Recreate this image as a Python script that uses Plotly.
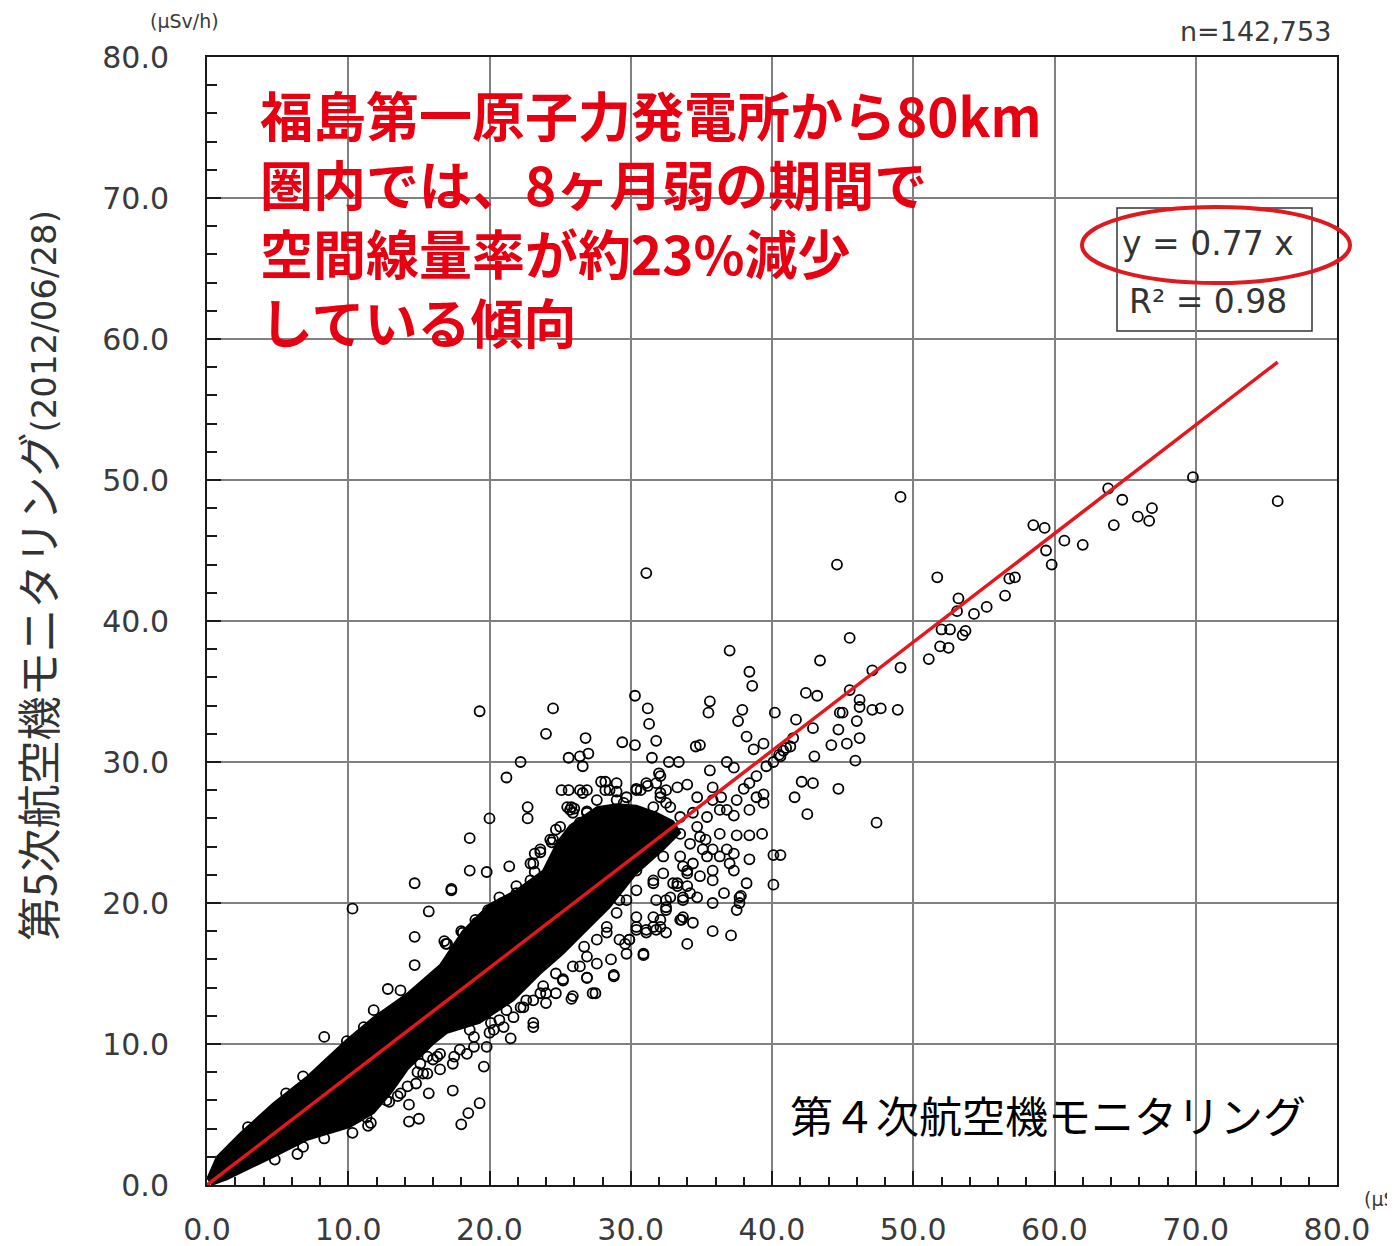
import plotly.graph_objects as go

# ---------------- data ----------------
x_ticks = [0, 10, 20, 30, 40, 50, 60, 70, 80]
y_ticks = [0, 10, 20, 30, 40, 50, 60, 70, 80]

fit_slope = 0.77
fit_r2 = 0.98
fit_x_end = 75.8
n_label = "n=142,753"

# saturated (solid black) core of the point cloud: upper edge (left->right), lower edge (right->left)
core_upper_x = [0.0, 0.7, 2.4, 4.7, 7.1, 9.9, 11.8, 14.2, 16.5, 18.1, 20.0, 21.9, 23.8, 24.8, 25.7, 27.6, 29.0, 30.4, 31.8, 33.0]
core_upper_y = [0.4, 2.0, 3.7, 5.8, 7.7, 10.3, 11.9, 13.6, 15.6, 18.0, 19.9, 20.9, 22.3, 24.3, 25.5, 26.8, 27.0, 26.9, 26.4, 25.8]
core_lower_x = [33.5, 32.3, 30.4, 28.5, 26.7, 25.2, 23.6, 21.7, 19.3, 17.0, 16.0, 14.2, 13.0, 11.8, 10.1, 7.1, 4.7, 1.4, 0.3]
core_lower_y = [25.0, 23.8, 22.1, 19.7, 17.9, 16.4, 15.0, 13.1, 11.5, 10.8, 10.0, 8.2, 6.5, 5.1, 4.1, 3.2, 2.0, 0.4, 0.0]

# individually visible points (x: 4th survey, y: 5th survey)
outlier_pts = [
    (49.1, 48.8), (44.6, 44.0), (69.8, 50.2), (75.8, 48.5), (63.8, 49.4), (64.8, 48.6), (66.9, 48.0),
    (65.9, 47.4), (66.7, 47.1), (64.2, 46.8), (58.5, 46.8), (59.3, 46.6), (60.7, 45.7), (62.0, 45.4),
    (59.4, 45.0), (59.8, 44.0), (51.7, 43.1), (56.8, 43.0), (57.2, 43.1), (56.5, 41.8), (55.2, 41.0),
    (54.3, 40.5), (53.2, 41.6), (53.1, 40.7), (52.0, 39.4), (52.6, 39.4), (53.7, 39.3), (53.5, 39.0),
    (51.9, 38.2), (52.5, 38.1), (51.1, 37.3), (49.1, 36.7), (47.1, 36.5), (45.5, 38.8), (43.4, 37.2),
    (42.4, 34.9), (43.2, 34.7), (45.5, 35.1), (46.2, 34.4), (46.2, 33.9), (44.8, 33.5), (45.0, 33.5),
    (47.1, 33.7), (47.7, 33.8), (48.9, 33.7), (41.7, 33.0), (42.9, 32.4), (44.7, 32.3), (46.0, 32.9),
    (46.2, 31.7), (45.3, 31.3), (44.2, 31.2), (43.0, 30.4), (45.9, 30.1), (41.3, 31.1), (41.5, 31.7),
    (41.0, 31.0), (40.8, 30.8), (40.5, 30.5), (42.1, 28.6), (42.9, 28.5), (44.7, 28.1), (41.6, 27.5),
    (42.5, 26.3), (47.4, 25.7),
    (31.1, 43.4), (37.0, 37.9), (38.4, 36.4), (38.6, 35.4), (19.3, 33.6), (24.5, 33.8), (30.3, 34.7),
    (31.2, 33.8), (31.3, 32.7), (35.6, 34.3), (35.5, 33.5), (37.9, 33.7), (37.6, 32.9), (40.2, 33.5),
    (24.0, 32.0), (26.8, 31.7), (29.4, 31.4), (30.3, 31.2), (31.8, 31.5), (38.2, 31.8), (22.2, 30.0),
    (21.2, 28.9), (25.6, 30.3), (26.4, 30.4), (27.0, 30.6), (26.6, 29.7), (31.5, 30.3), (32.7, 30.0),
    (33.4, 30.0), (34.6, 31.1), (34.9, 31.2), (20.0, 26.0), (18.6, 24.6), (18.6, 22.3), (19.8, 22.2),
    (21.4, 22.6), (17.3, 20.9), (15.7, 19.4), (22.7, 26.8), (22.7, 26.0), (40.1, 21.3), (40.1, 23.4),
    (40.6, 23.4), (38.4, 23.1), (36.6, 20.7), (37.8, 20.5), (37.5, 19.5), (35.8, 18.0), (37.1, 17.7),
    (33.6, 18.8), (35.8, 21.6), (38.4, 24.8), (39.3, 24.9),
    (10.3, 19.6), (8.3, 10.5), (14.7, 21.4), (17.3, 21.0), (14.7, 17.6), (14.7, 15.6), (12.8, 13.9),
    (16.9, 17.1), (18.1, 17.9), (21.5, 10.4), (23.1, 11.2), (19.6, 8.4), (19.3, 5.8), (18.5, 5.1),
    (18.0, 4.3), (17.4, 6.7), (15.7, 6.5), (14.3, 5.7), (14.3, 4.5), (15.0, 4.7), (10.3, 3.7),
    (25.8, 13.2), (26.9, 14.7), (27.5, 13.6), (2.9, 4.1),
]

band_fringe_pts = [
    (32.0, 29.2), (35.6, 29.4), (36.8, 30.0), (37.3, 29.6), (38.7, 30.9), (39.4, 31.3), (40.1, 30.0),
    (28.2, 28.6), (25.1, 28.0), (25.6, 28.0), (26.4, 28.0), (26.9, 28.0), (29.0, 27.9), (30.4, 28.1),
    (31.2, 28.3), (31.8, 28.5), (32.5, 28.0), (34.0, 28.4), (34.7, 27.5), (35.8, 28.2), (36.4, 27.5),
    (38.0, 28.1), (38.4, 28.5), (38.9, 27.5), (39.4, 27.7), (39.4, 27.1), (23.1, 22.8), (23.2, 22.2),
    (23.6, 23.6), (24.4, 24.3), (25.8, 26.8), (36.8, 26.6), (37.3, 26.2), (38.4, 26.6), (37.5, 24.8),
    (35.8, 23.8), (36.3, 23.3), (37.0, 22.8), (37.3, 23.5), (37.7, 20.4), (30.9, 16.3), (28.8, 14.9),
    (33.5, 24.9), (34.2, 24.2), (34.9, 24.7), (33.5, 23.3), (34.4, 22.8), (35.4, 23.3), (34.0, 22.1),
    (34.9, 21.9), (33.3, 21.2), (34.2, 20.7), (32.5, 19.7), (33.7, 20.2), (32.1, 18.3), (31.6, 19.0),
    (30.4, 19.0), (31.1, 17.9), (29.9, 17.4), (30.4, 18.1), (35.8, 27.3), (36.3, 26.6), (35.4, 26.1),
    (34.7, 25.4), (37.5, 27.3), (38.9, 29.0), (39.6, 29.7), (40.6, 30.4),
    (17.4, 8.6), (17.9, 9.6), (18.9, 9.8), (16.0, 8.9), (15.6, 7.9), (14.8, 7.2), (13.7, 6.5),
    (12.7, 6.0), (11.3, 4.8), (20.3, 11.0), (20.7, 11.7), (22.2, 12.6), (23.1, 13.1), (24.0, 13.6),
    (25.2, 14.5), (26.4, 15.5), (5.6, 6.5), (6.8, 7.7), (11.8, 12.4), (13.7, 13.8), (25.9, 26.4),
    (26.9, 26.4), (26.4, 25.7),
    (4.8, 1.8), (6.8, 2.7), (8.3, 3.3), (11.4, 4.2), (19.8, 9.8), (14.2, 7.0), (15.3, 7.9), (16.5, 8.2),
    (17.5, 9.1), (18.4, 9.3), (18.9, 10.5), (20.1, 11.5), (16.3, 9.1), (15.1, 8.6),
    (16.8, 17.3), (18.0, 18.0), (19.0, 18.8), (19.9, 19.5), (20.7, 20.4), (21.9, 21.2), (22.9, 21.6),
    (23.2, 23.5), (24.5, 24.5), (24.7, 25.2), (25.5, 26.8), (26.0, 26.7), (27.9, 28.6), (28.2, 28.0),
    (29.0, 27.3), (29.7, 27.5), (30.7, 28.0), (31.6, 26.8), (32.5, 27.1), (32.1, 27.8), (33.5, 26.1),
    (34.4, 26.4), (30.4, 22.3), (31.6, 21.4), (32.5, 20.2), (31.6, 18.3), (33.0, 21.4), (34.0, 22.3),
    (34.7, 20.4), (33.7, 19.0), (29.2, 20.2), (28.3, 17.9), (29.6, 17.1), (35.1, 23.8), (35.8, 22.3),
    (36.8, 23.8), (36.3, 24.9), (35.3, 24.5), (37.3, 22.3), (38.2, 21.4), (37.7, 20.0), (35.8, 20.0),
    (34.4, 18.6), (32.5, 17.9), (34.0, 17.1),
    # halo around the saturated core
    (25.9, 13.4), (27.3, 13.6), (26.9, 14.7), (28.8, 14.8), (29.7, 16.4), (30.9, 16.4), (28.6, 16.0),
    (27.6, 15.7), (26.9, 16.2), (29.9, 17.4), (29.2, 17.4), (30.4, 18.3), (31.1, 18.1), (31.8, 18.1),
    (32.1, 18.8), (32.5, 19.5), (33.5, 18.8), (31.8, 20.2), (32.8, 20.4), (33.7, 20.4), (33.3, 21.4),
    (34.0, 21.2), (23.1, 11.5), (21.7, 11.9), (22.4, 12.6), (24.0, 12.9), (24.7, 13.6), (25.2, 14.6),
    (23.6, 13.6), (21.0, 11.2), (20.0, 10.8), (18.6, 11.0),
    (17.0, 17.1), (18.1, 17.9), (19.1, 18.6), (20.9, 20.0), (21.9, 20.7), (22.9, 21.2), (22.9, 22.8),
    (23.6, 23.8), (24.3, 24.5), (25.0, 25.4), (25.7, 26.6), (26.6, 27.8), (26.9, 26.5), (27.6, 27.3),
    (28.5, 28.0), (29.0, 28.5), (29.5, 27.1), (30.4, 28.0), (31.1, 28.5), (32.1, 27.5), (32.8, 26.8),
    (33.3, 28.2), (32.1, 29.0), (30.9, 23.8), (32.3, 23.3), (33.7, 22.6),
    (30.4, 20.9), (29.7, 20.2), (29.0, 19.3), (28.3, 18.3), (27.6, 17.4), (26.7, 16.9), (25.9, 15.5),
    (24.7, 15.0), (23.8, 14.1), (22.6, 13.1), (21.2, 12.4), (31.6, 21.6), (32.3, 22.1),
    (6.4, 2.2), (11.6, 4.4), (12.9, 5.9), (13.5, 6.3), (15.6, 9.1), (16.5, 9.3), (14.9, 8.0),
    (9.9, 10.2), (11.1, 11.2),
]

red_lines = [
    "福島第一原子力発電所から80km",
    "圏内では、8ヶ月弱の期間で",
    "空間線量率が約23%減少",
    "している傾向",
]
x_title_box = "第４次航空機モニタリング"
y_title_main = "第5次航空機モニタリング"
y_title_date = "(2012/06/28)"
unit_label = "(μSv/h)"

# ---------------- figure ----------------
# reference plot area (viewport pixels): x 207..1337, y 57..1185 ; page body adds an 8px offset
OFF = 8
W, H = 1395 - OFF, 1246 - OFF
L, T = 207 - OFF, 57 - OFF
PW, PH = 1130, 1128
R, B = W - L - PW, H - T - PH


def PX(x):
    return (x - 207) / PW


def PY(y):
    return (1185 - y) / PH


pts = outlier_pts + band_fringe_pts
pts_x = [p[0] for p in pts]
pts_y = [p[1] for p in pts]

fig = go.Figure()
fig.add_trace(go.Scatter(
    x=core_upper_x + core_lower_x, y=core_upper_y + core_lower_y,
    mode="lines", fill="toself", fillcolor="black",
    line=dict(color="black", width=2), hoverinfo="skip", showlegend=False))
fig.add_trace(go.Scatter(
    x=pts_x, y=pts_y, mode="markers",
    marker=dict(symbol="circle-open", size=10, color="black", line=dict(width=1.8)),
    showlegend=False))
fig.add_trace(go.Scatter(
    x=[0, fit_x_end], y=[0, fit_slope * fit_x_end], mode="lines",
    line=dict(color="#e5161c", width=3.5), showlegend=False))

tickfont = dict(family="DejaVu Sans", size=30, color="#3a3a3a")
axis_common = dict(
    range=[0, 80], dtick=10, tick0=0, tickformat=".1f",
    showgrid=True, gridcolor="#808080", gridwidth=1.5,
    showline=True, linecolor="#1a1a1a", linewidth=2, mirror=True,
    ticks="inside", ticklen=14, tickwidth=1.5, tickcolor="#1a1a1a",
    zeroline=False, tickfont=tickfont, automargin=False,
)
fig.update_xaxes(**axis_common, ticklabelstandoff=17,
                 minor=dict(dtick=2, ticks="inside", ticklen=8, tickwidth=1.5,
                            tickcolor="#1a1a1a", showgrid=False))
fig.update_yaxes(**axis_common, ticklabelstandoff=30,
                 minor=dict(dtick=2, ticks="inside", ticklen=10, tickwidth=1.5,
                            tickcolor="#1a1a1a", showgrid=False))

shapes = [
    # white backing of the red message (hides gridlines)
    dict(type="rect", xref="paper", yref="paper", x0=PX(232), x1=PX(1080), y0=PY(362), y1=PY(59),
         fillcolor="white", line=dict(width=0), layer="between"),
    # white backing of the x title
    dict(type="rect", xref="paper", yref="paper", x0=PX(778), x1=PX(1322), y0=PY(1157), y1=PY(1078),
         fillcolor="white", line=dict(width=0), layer="between"),
    # equation box
    dict(type="rect", xref="paper", yref="paper", x0=PX(1117), x1=PX(1312), y0=PY(331), y1=PY(208),
         fillcolor="white", line=dict(color="#333333", width=1.5), layer="between"),
    # red ellipse
    dict(type="circle", xref="paper", yref="paper", x0=PX(1082), x1=PX(1350), y0=PY(283), y1=PY(207),
         fillcolor="rgba(0,0,0,0)", line=dict(color="#dc1a1f", width=4), layer="above"),
]

ann = [
    dict(x=PX(258), y=PY(218), xref="paper", yref="paper", xanchor="left", yanchor="middle",
         align="left", text="<br>".join("<b>" + t + "</b>" for t in red_lines), showarrow=False,
         font=dict(family="Noto Sans CJK JP", size=53, color="#e60012")),
    dict(x=PX(1120), y=PY(244), xref="paper", yref="paper", xanchor="left", yanchor="middle",
         text="y = %.2f x" % fit_slope, showarrow=False,
         font=dict(family="DejaVu Sans", size=33, color="#333333")),
    dict(x=PX(1127), y=PY(301), xref="paper", yref="paper", xanchor="left", yanchor="middle",
         text="R² = %.2f" % fit_r2, showarrow=False,
         font=dict(family="DejaVu Sans", size=33, color="#333333")),
    dict(x=PX(1333), y=PY(31), xref="paper", yref="paper", xanchor="right", yanchor="middle",
         text=n_label, showarrow=False, font=dict(family="DejaVu Sans", size=27, color="#3a3a3a")),
    dict(x=PX(148), y=PY(21), xref="paper", yref="paper", xanchor="left", yanchor="middle",
         text=unit_label, showarrow=False, font=dict(family="DejaVu Sans", size=19, color="#3a3a3a")),
    dict(x=PX(1362), y=PY(1199), xref="paper", yref="paper", xanchor="left", yanchor="middle",
         text=unit_label, showarrow=False, font=dict(family="DejaVu Sans", size=19, color="#3a3a3a")),
    dict(x=PX(788), y=PY(1114), xref="paper", yref="paper", xanchor="left", yanchor="middle",
         text=x_title_box, showarrow=False, font=dict(family="Noto Sans CJK JP", size=43, color="black")),
    dict(x=PX(37), y=PY(576), xref="paper", yref="paper", xanchor="center", yanchor="middle",
         textangle=-90, showarrow=False,
         text=y_title_main + '<span style="font-family:DejaVu Sans;font-size:34px">' + y_title_date + "</span>",
         font=dict(family="Noto Sans CJK JP", size=44, color="#333333")),
]

fig.update_layout(
    width=W, height=H, margin=dict(l=L, r=R, t=T, b=B, pad=0),
    paper_bgcolor="white", plot_bgcolor="white",
    shapes=shapes, annotations=ann, showlegend=False,
)

fig.write_html("out.html")
